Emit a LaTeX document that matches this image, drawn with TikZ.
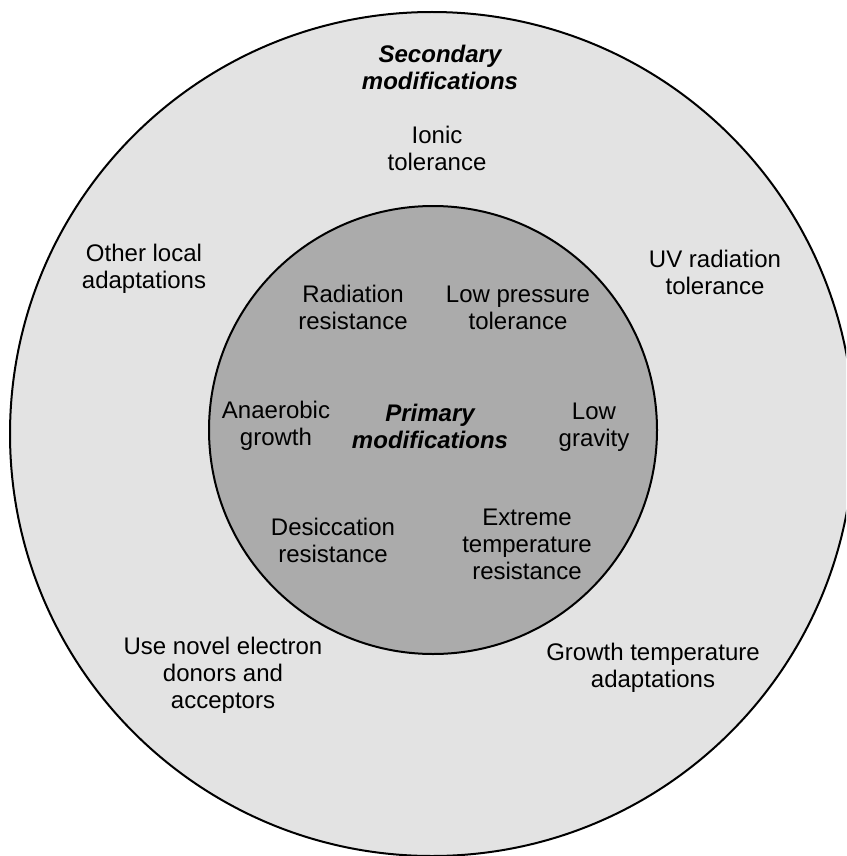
\documentclass[tikz,border=0pt]{standalone}
\usepackage{fontspec}
\setmainfont{Liberation Sans}
\definecolor{outergray}{HTML}{E3E3E3}
\definecolor{innergray}{HTML}{ABABAB}

\begin{document}
\begin{tikzpicture}[x=0.5pt, y=-0.5pt]

\useasboundingbox (0,0) rectangle (846,856);
\clip (0,0) rectangle (846,856);

\begin{scope}[line width=1pt, draw=black]
    \node[circle, draw, fill=outergray, minimum size=422pt, inner sep=0pt] (outer) at (432,434) {};
    \node[circle, draw, fill=innergray, minimum size=224pt, inner sep=0pt] (inner) at (433,430) {};
\end{scope}

\begin{scope}[every node/.style={align=center, font=\fontsize{12}{13.5}\selectfont}]
    \node[font=\fontsize{12}{13.5}\selectfont\bfseries\itshape] (sec) at (440,67) {Secondary\\modifications};
    \node (ionic) at (437,148) {Ionic\\tolerance};
    \node (local) at (144,269) {Other local\\adaptations};
    \node (uv) at (715,272) {UV radiation\\tolerance};
    \node (electron) at (223,675) {Use novel electron\\donors and\\acceptors};
    \node (growtemp) at (653,668) {Growth temperature\\adaptations};

    \node[font=\fontsize{12}{13.5}\selectfont\bfseries\itshape] (prim) at (430,426) {Primary\\modifications};
    \node (rad) at (353,307) {Radiation\\resistance};
    \node (press) at (518,308) {Low pressure\\tolerance};
    \node (anaer) at (276,426) {Anaerobic\\growth};
    \node (grav) at (594,427) {Low\\gravity};
    \node (desic) at (333,540) {Desiccation\\resistance};
    \node (extreme) at (527,544) {Extreme\\temperature\\resistance};
\end{scope}

\end{tikzpicture}
\end{document}
